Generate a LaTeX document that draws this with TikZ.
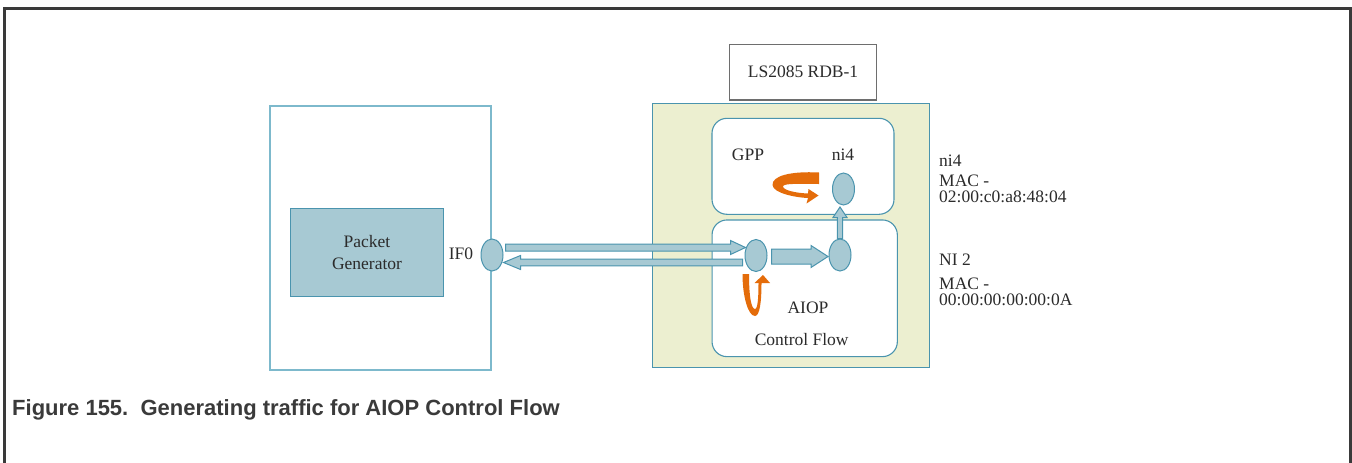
\documentclass[tikz,border=0pt]{standalone}
\usepackage{fontspec}
\setmainfont{Liberation Serif}
\newfontfamily\fuentePie{Liberation Sans}
\usetikzlibrary{arrows.meta, positioning, calc, shapes.geometric}
\definecolor{marcoFig}{HTML}{3A3A3A}
\definecolor{bordeAzul}{HTML}{4A94AE}
\definecolor{bordeClaro}{HTML}{7DB9CC}
\definecolor{rellenoAzul}{HTML}{A7C9D3}
\definecolor{fondoPlaca}{HTML}{ECEFD0}
\definecolor{naranja}{HTML}{E46C0A}
\definecolor{bordeGris}{HTML}{6E6E6E}
\definecolor{tinta}{HTML}{2B2B2B}

% flecha de bloque horizontal: cola, punta, medio cuerpo, media cabeza, largo de cabeza
\newcommand{\flechaH}[5]{%
  \draw[bloque] let \p1=(#1), \p2=(#2) in
    (\x1,{\y2+#3}) -- ({\x2-(#5)},{\y2+#3}) -- ({\x2-(#5)},{\y2+#4}) -- (\p2)
    -- ({\x2-(#5)},{\y2-#4}) -- ({\x2-(#5)},{\y2-#3}) -- (\x1,{\y2-#3}) -- cycle;}
% la misma, en vertical
\newcommand{\flechaV}[5]{%
  \draw[bloque] let \p1=(#1), \p2=(#2) in
    ({\x2+#3},\y1) -- ({\x2+#3},{\y2-(#5)}) -- ({\x2+#4},{\y2-(#5)}) -- (\p2)
    -- ({\x2-#4},{\y2-(#5)}) -- ({\x2-#3},{\y2-(#5)}) -- ({\x2-#3},\y1) -- cycle;}

\begin{document}
\begin{tikzpicture}[
  x=1pt, y=-1pt,
  font=\fontsize{17.5}{16}\selectfont, text=tinta,
  marco/.style={draw=bordeClaro, line width=1.2pt, inner sep=0pt},
  placa/.style={draw=bordeAzul, fill=fondoPlaca, line width=1.2pt, inner sep=0pt},
  zona/.style={draw=bordeAzul, fill=white, rounded corners=15pt, line width=1.1pt, inner sep=0pt},
  caja/.style={draw=bordeAzul, fill=rellenoAzul, line width=1.2pt, align=center,
               inner sep=0pt, font=\fontsize{17.5}{21.7}\selectfont},
  rotulo/.style={draw=bordeGris, fill=white, line width=1.2pt, inner sep=0pt},
  puerto/.style={ellipse, draw=bordeAzul, fill=rellenoAzul, line width=1pt,
                 minimum width=22pt, minimum height=32pt, inner sep=0pt},
  bloque/.style={draw=bordeAzul, fill=rellenoAzul, line width=1pt},
  lazo/.style={fill=naranja},
  etiqueta/.style={anchor=base, inner sep=0pt},
  dato/.style={anchor=base west, inner sep=0pt}
]
\useasboundingbox (0,0) rectangle (1352,463);
\draw[line width=3pt, draw=marcoFig] (4.5,463) -- (4.5,8.5) -- (1350,8.5) -- (1350,463);

% equipo generador
\node[marco, minimum width=221pt, minimum height=264pt] (pc) at (380.5,238) {};
\node[caja, minimum width=152.6pt, minimum height=88.4pt] (gen) at (367,252.5) {Packet\\Generator};

% placa
\node[placa, minimum width=277pt, minimum height=264.4pt] (placa) at (790.8,235.5) {};
\node[rotulo, minimum width=147.4pt, minimum height=55.7pt] (rdb) at (803,72.2) {LS2085 RDB-1};
\node[zona, minimum width=182pt, minimum height=96pt] (gpp) at (803,166.3) {};
\node[zona, minimum width=185.3pt, minimum height=136.7pt] (aiop) at (804.7,288.3) {};

\node[puerto] (if0) at (492,255) {};
\node[puerto] (ent) at (756,255.5) {};
\node[puerto] (sal) at (840,255) {};
\node[puerto] (ni4) at (843.5,189) {};

\flechaH{$(if0.east)+(2,-7.5)$}{$(ent.west)+(1,-8)$}{3.5pt}{7pt}{15pt}
\flechaH{$(ent.west)+(-2,7)$}{$(if0.east)+(0,7.5)$}{3.3pt}{7pt}{-17pt}
\flechaH{$(ent.east)+(4,1.5)$}{$(sal.west)+(-0.5,1.5)$}{7.5pt}{11pt}{17pt}
\flechaV{sal.north}{$(ni4.south)+(-3.5,1.5)$}{2.7pt}{7pt}{10.5pt}

% lazos naranjas
\fill[lazo] (819,172.5) .. controls (790,171) and (772,176) .. (772.5,185)
  .. controls (773,193) and (795,197.5) .. (808,198) -- (806.5,203.5) -- (818.5,195.5)
  -- (808.5,189) -- (808,193.5) .. controls (795,193) and (783,190) .. (783,186.5)
  .. controls (783,183) and (800,184) .. (819,184) -- cycle;
\fill[lazo] (742.5,274) -- (749,274) .. controls (749,295) and (751,309) .. (755,309)
  .. controls (758,309) and (758.5,295) .. (758.5,283) -- (754.5,283) -- (763,275)
  -- (770,283) -- (761.5,283) .. controls (761.5,300) and (760,316) .. (755,316)
  .. controls (748,316) and (742.5,296) .. (742.5,274) -- cycle;

% textos
\node[etiqueta] (tif0) at (461,259.3) {IF0};
\node[etiqueta] (tgpp) at (748,160.7) {GPP};
\node[etiqueta] (tni4) at (843,160.7) {ni4};
\node[etiqueta] (taiop) at (808,313.3) {AIOP};
\node[etiqueta] (tctrl) at (801.7,345) {Control Flow};

\node[dato] (d1) at (939,166.7) {ni4};
\node[dato] (d2) at (939,186.7) {MAC -};
\node[dato] (d3) at (939,202.7) {02:00:c0:a8:48:04};
\node[dato] (d4) at (939,265) {NI 2};
\node[dato] (d5) at (939,289) {MAC -};
\node[dato] (d6) at (939,305.7) {00:00:00:00:00:0A};

\node[dato, font=\fuentePie\bfseries\fontsize{22}{26}\selectfont, text=marcoFig] (pie)
  at (12,415) {Figure 155.\ \ Generating traffic for AIOP Control Flow};
\end{tikzpicture}
\end{document}
